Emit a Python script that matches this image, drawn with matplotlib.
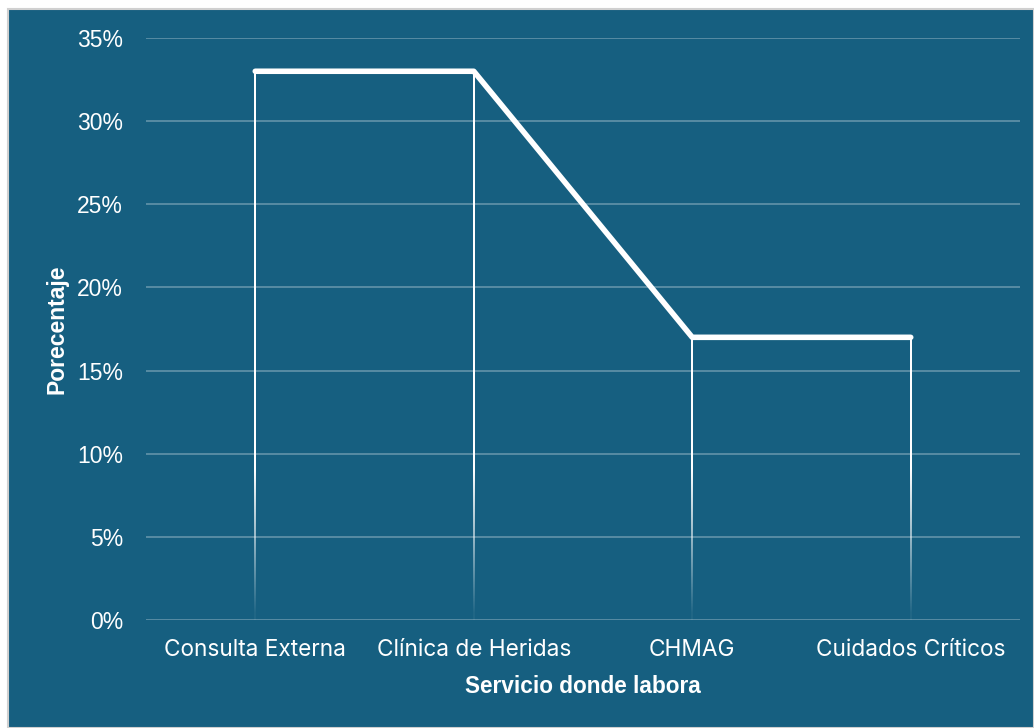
import numpy as np
import matplotlib.pyplot as plt
from matplotlib.patches import Rectangle
from matplotlib.ticker import FuncFormatter

categories = ['Consulta Externa', 'Clínica de Heridas', 'CHMAG', 'Cuidados Críticos']
porcentaje = [33, 33, 17, 17]
yticks = [0, 5, 10, 15, 20, 25, 30, 35]

BG = '#165f80'
FADE = 9.0  # altura (en %) donde la linea de caida empieza a desvanecerse

fig = plt.figure(figsize=(10.34, 7.28), dpi=100, facecolor='white')
# fondo con borde gris
fig.patches.append(Rectangle((8 / 1034, 0), 1 - 8 / 1034, 1 - 9 / 728, transform=fig.transFigure,
                             facecolor=BG, edgecolor='#d0d0d0', linewidth=1.5, zorder=-1))
ax = fig.add_axes([146 / 1034, (728 - 620) / 728, (1020 - 146) / 1034, (620 - 38) / 728])
ax.set_facecolor(BG)

x = np.arange(len(categories))

# ancho de la linea de caida en unidades de datos (~2 px)
px_per_unit = ax.get_window_extent().width / len(categories)
half_w = 1.0 / px_per_unit

# lineas de caida como imagen: blanca arriba, se desvanece cerca del eje
for xi, v in zip(x, porcentaje):
    ys = np.linspace(0, v, 400)
    img = np.ones((len(ys), 2, 4))
    img[:, :, 3] = np.clip(ys / FADE, 0.05, 1)[:, None]
    ax.imshow(img, origin='lower', extent=[xi - half_w, xi + half_w, 0, v],
              aspect='auto', interpolation='bilinear', zorder=3)

ax.plot(x, porcentaje, color='white', linewidth=4, solid_capstyle='round', zorder=4)
ax.set_xlim(-0.5, len(categories) - 0.5)
ax.set_ylim(0, 35)

ax.set_yticks(yticks)
ax.yaxis.set_major_formatter(FuncFormatter(lambda v, p: '%d%%' % v))
ax.set_xticks(x)
ax.set_xticklabels(categories, fontsize=16.3, color='white', family='Inter')
ax.tick_params(axis='y', labelsize=16.5, labelcolor='white', length=0, pad=16.5)
ax.tick_params(axis='x', length=0, pad=14)
for lbl in ax.get_yticklabels():
    lbl.set_family('Liberation Sans')

ax.grid(axis='y', color='white', alpha=0.3, linewidth=1.3)
ax.set_axisbelow(True)
for s in ax.spines.values():
    s.set_visible(False)

ax.set_xlabel('Servicio donde labora', fontsize=16.3, fontweight='bold', color='white',
              family='Liberation Sans', labelpad=10)
ax.set_ylabel('Porecentaje', fontsize=16.5, fontweight='bold', color='white',
              family='Liberation Sans', labelpad=6)

fig.savefig('out.png', dpi=100, facecolor=fig.get_facecolor())
